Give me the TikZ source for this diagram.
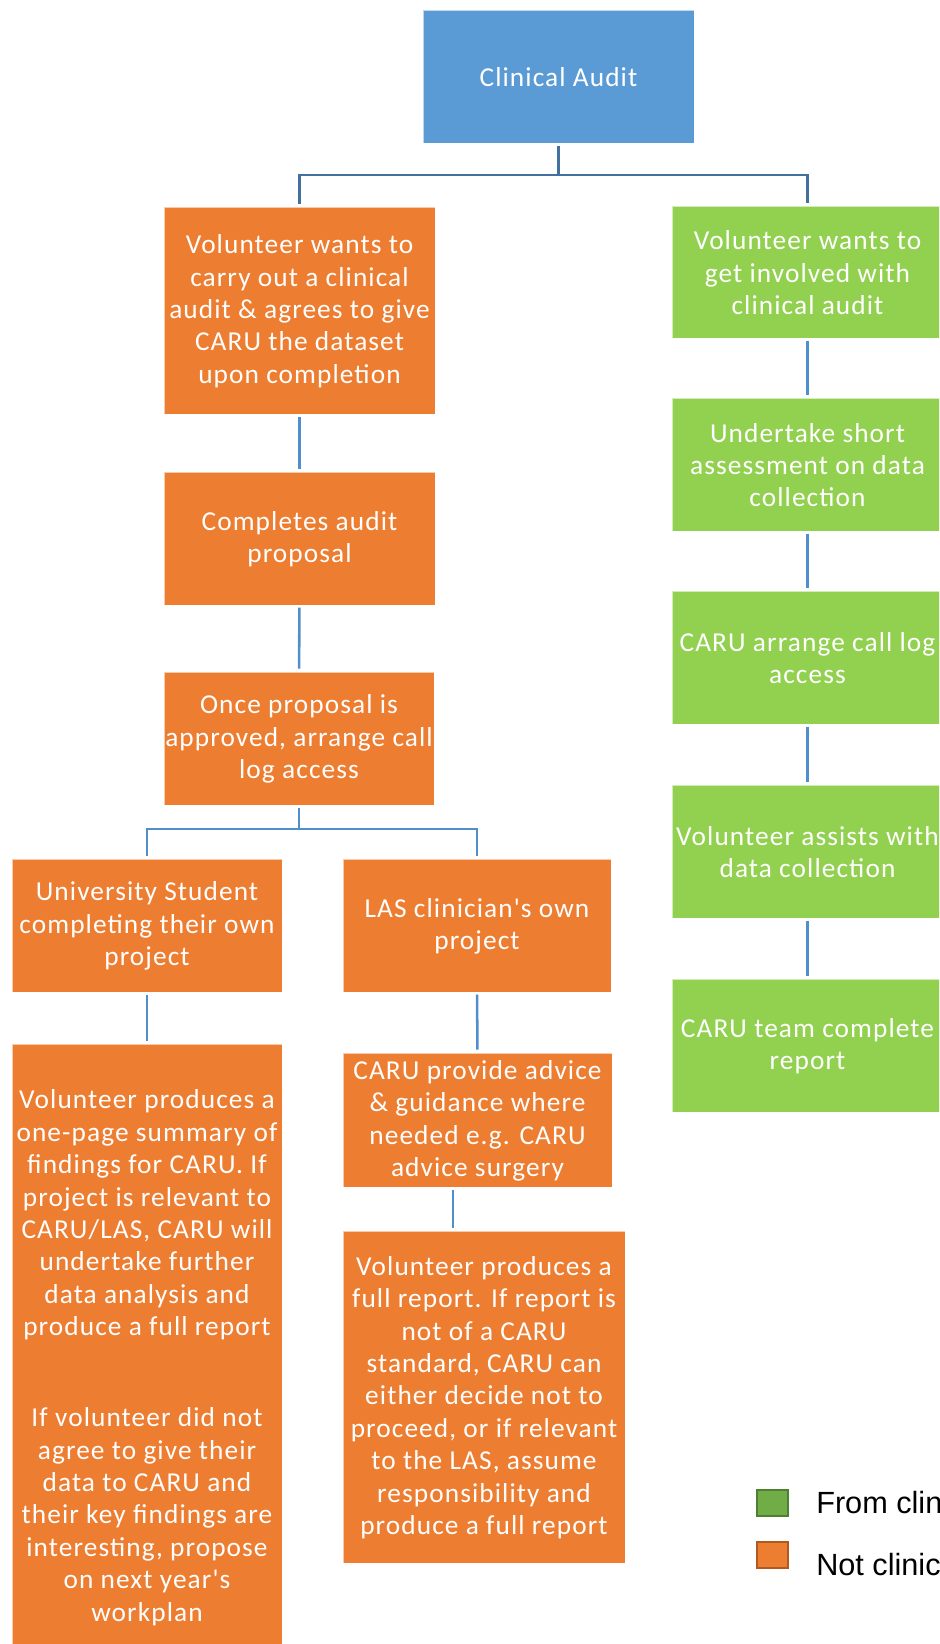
\documentclass[tikz,border=0pt]{standalone}
\usepackage{fontspec}
\newfontfamily\boxfont[LetterSpace=4]{Carlito}
\newfontfamily\legfont{Liberation Sans}
\usetikzlibrary{fit}
\definecolor{cablue}{HTML}{5B9BD5}
\definecolor{caorange}{HTML}{ED7D31}
\definecolor{cagreen}{HTML}{92D050}
\definecolor{connA}{HTML}{41719C}
\definecolor{connB}{HTML}{4F8FCC}
\definecolor{leggreen}{HTML}{70AD47}
\definecolor{leggreenb}{HTML}{507E32}
\definecolor{legorangeb}{HTML}{AE5A21}
% #1 text shift, #2 name, #3 style, #4 #5 corners, #6 text
\newcommand\mkbox[6][-0.5pt]{%
  \node[#3, fit={#4 #5}] (#2) {};
  \node[txt] (#2-t) at ([yshift=#1]#2.center) {#6};}
\begin{document}
\begin{tikzpicture}[x=0.75pt,y=-0.75pt,
  box/.style={rectangle, inner sep=0pt, outer sep=0pt, draw=white, draw opacity=0.6,
    line width=0.6pt},
  txt/.style={inner sep=0pt, text=white, align=center,
    font=\boxfont\fontsize{20.5pt}{24.3pt}\selectfont},
  obox/.style={box, fill=caorange},
  gbox/.style={box, fill=cagreen},
  bbox/.style={box, fill=cablue},
  conn/.style={draw=connB, line width=1.9pt, shorten <=2pt, shorten >=2.5pt},
  legsq/.style={rectangle, inner sep=0pt, outer sep=0pt, line width=1.6pt},
  legtext/.style={anchor=base west, inner sep=0pt, text=black,
    font=\legfont\fontsize{23pt}{27pt}\selectfont}]
\path[use as bounding box] (0,0) rectangle (939,1644);
\clip (0,0) rectangle (939,1644);

% top
\mkbox{top}{bbox}{(423,10)}{(694,143)}{Clinical Audit}

% left column
\mkbox{A}{obox}{(164,207)}{(435,414)}{Volunteer wants to\\carry out a clinical\\audit \& agrees to give\\CARU the dataset\\upon completion}
\mkbox{B}{obox}{(164,472)}{(435,605)}{Completes audit\\proposal}
\mkbox{C}{obox}{(164,672)}{(434,805)}{Once proposal is\\approved, arrange call\\log access}
\mkbox{D}{obox}{(12,859)}{(282,992)}{University Student\\completing their own\\project}
\mkbox{E}{obox}{(343,859)}{(611,992)}{LAS clinician's own\\project}
\mkbox{F}{obox}{(12,1044)}{(282,1670)}{Volunteer produces a\\one-page summary of\\findings for CARU. If\\project is relevant to\\CARU/LAS, CARU will\\undertake further\\data analysis and\\produce a full report\\[44pt]If volunteer did not\\agree to give their\\data to CARU and\\their key findings are\\interesting, propose\\on next year's\\workplan}
\mkbox{G}{obox}{(343,1053)}{(612,1187)}{CARU provide advice\\\& guidance where\\needed e.g. CARU\\advice surgery}
\mkbox{H}{obox}{(343,1231)}{(625,1563)}{Volunteer produces a\\full report. If report is\\not of a CARU\\standard, CARU can\\either decide not to\\proceed, or if relevant\\to the LAS, assume\\responsibility and\\produce a full report}

% right column
\mkbox{g1}{gbox}{(672,206)}{(943,338)}{Volunteer wants to\\get involved with\\clinical audit}
\mkbox{g2}{gbox}{(672,398)}{(943,531)}{Undertake short\\assessment on data\\collection}
\mkbox{g3}{gbox}{(672,591)}{(943,724)}{CARU arrange call log\\access}
\mkbox{g4}{gbox}{(672,785)}{(943,918)}{Volunteer assists with\\data collection}
\mkbox{g5}{gbox}{(672,979)}{(943,1112)}{CARU team complete\\report}

% connectors
\coordinate (j1) at (558.5,175);
\draw[conn, draw=connA, shorten >=0pt] (top) -- (j1);
\draw[conn, draw=connA, shorten <=0pt] (j1) -| (A);
\draw[conn, draw=connA, shorten <=0pt] (j1) -| (g1);
\draw[conn] (A) -- (B);
\draw[conn] (B) -- (C);
\coordinate (j2) at (299,829);
\draw[conn, shorten >=0pt] (C) -- (j2);
\draw[conn, shorten <=0pt] (j2) -| (D);
\draw[conn, shorten <=0pt] (j2) -| (E);
\draw[conn] (D) -- (F);
\draw[conn] (E.south) -- (G.north);
\coordinate (gh) at (453,0);
\draw[conn] (G.south -| gh) -- (H.north -| gh);
\draw[conn] (g1) -- (g2);
\draw[conn] (g2) -- (g3);
\draw[conn] (g3) -- (g4);
\draw[conn] (g4) -- (g5);

% legend
\node[legsq, fill=leggreen, draw=leggreenb, fit={(757,1490) (788,1516)}] (l1) {};
\node[legsq, fill=caorange, draw=legorangeb, fit={(757,1542) (788,1568)}] (l2) {};
\node[legtext] (t1) at (816,1513) {From clinical audit};
\node[legtext] (t2) at (816,1575) {Not clinical audit};
\end{tikzpicture}
\end{document}
